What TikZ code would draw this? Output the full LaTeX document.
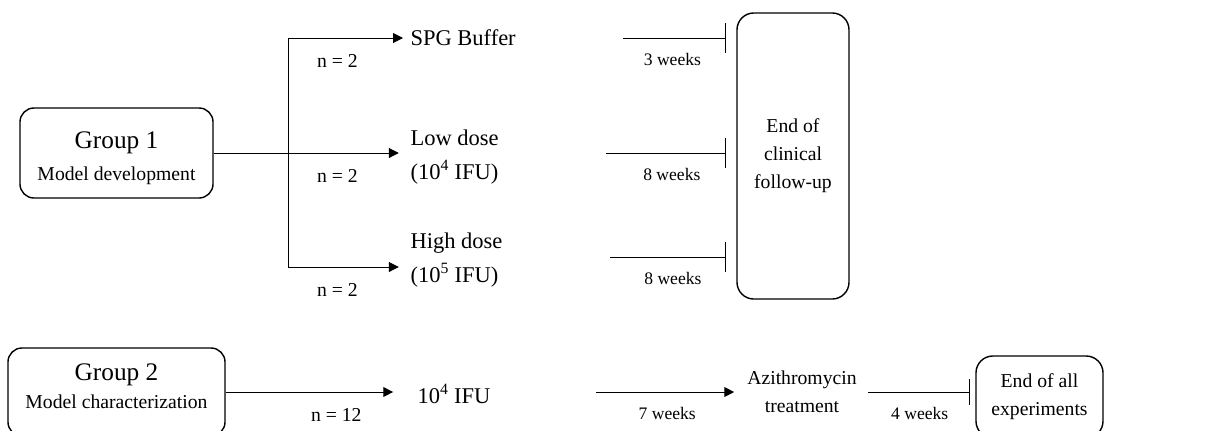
\documentclass[tikz,border=0pt]{standalone}
\usepackage{fontspec}
\setmainfont{Liberation Serif}
\usetikzlibrary{arrows.meta,positioning,calc}

\begin{document}
\begin{tikzpicture}[x=0.025cm, y=-0.025cm, line width=0.7pt,
    groupbox/.style={draw, line width=1pt, rounded corners=10pt, align=center},
    endbox/.style={draw, line width=1pt, rounded corners=12pt, align=center},
    txt/.style={inner sep=5pt, font=\fontsize{16}{24}\selectfont},
    flow/.style={-{Triangle[length=7pt,width=7pt]}},
    stopline/.style={-{Bar[width=21pt]}},
    count/.style={below=8pt, font=\fontsize{14}{16}\selectfont},
    weeks/.style={below=7pt, font=\fontsize{12.5}{15}\selectfont}]
  \useasboundingbox (0,0) rectangle (1217,430);

  % Group 1 and its three arms
  \node[groupbox, minimum width=4.825cm, minimum height=2.25cm] (g1) at (116.5,153) {};
  \node[align=center, font=\fontsize{14}{23}\selectfont] (g1t) at (116.5,158)
    {{\fontsize{18}{23}\selectfont Group 1}\\Model development};

  \coordinate (br) at (288,153);
  \coordinate (bt) at (288,38);
  \coordinate (bh) at (288,267);

  \node[txt, anchor=west] (spg) at (403,38) {SPG Buffer};
  \node[txt, anchor=west, align=left] (low) at (403,157) {Low dose\\(10\textsuperscript{4} IFU)};
  \node[txt, anchor=west, align=left] (high) at (403,260) {High dose\\(10\textsuperscript{5} IFU)};

  \draw (g1.east) -- (br);
  \draw (bt) -- (bh);
  \draw[flow] (bt) -- (bt -| spg.west) node[count, pos=0.43] {n = 2};
  \draw[flow, shorten >=3pt] (br) -- (br -| low.west) node[count, pos=0.43] {n = 2};
  \draw[flow, shorten >=3pt] (bh) -- (bh -| high.west) node[count, pos=0.43] {n = 2};

  % end of follow-up
  \node[endbox, minimum width=2.8cm, minimum height=7.15cm,
        font=\fontsize{14}{20}\selectfont] (end1) at (793,156) {End of\\clinical\\follow-up};

  \draw[stopline, shorten <=2.5cm, shorten >=7pt] (spg.east) -- (spg.east -| end1.west)
    node[weeks, pos=0.7] {3 weeks};
  \draw[stopline, shorten <=2.5cm, shorten >=7pt] (low.east |- br) -- (br -| end1.west)
    node[weeks, pos=0.72] {8 weeks};
  \draw[stopline, shorten <=2.5cm, shorten >=7pt] ([yshift=2pt]high.east) -- ([yshift=2pt]high.east -| end1.west)
    node[weeks, pos=0.72] {8 weeks};

  % Group 2
  \node[groupbox, minimum width=5.425cm, minimum height=2.2cm] (g2) at (116.5,392) {};
  \node[align=center, font=\fontsize{14}{20}\selectfont] (g2t) at (116.5,386)
    {{\fontsize{18}{20}\selectfont Group 2}\\Model characterization};

  \node[txt, anchor=west] (ifu) at (410,394) {10\textsuperscript{4} IFU};
  \node[txt, align=center, font=\fontsize{14}{20}\selectfont] (azi) at (802,392) {Azithromycin\\treatment};
  \node[endbox, minimum width=3.175cm, minimum height=2.05cm,
        font=\fontsize{14}{20}\selectfont] (end2) at (1039.5,397) {End of all\\experiments};

  \draw[flow, shorten >=12pt] (g2.east) -- (g2.east -| ifu.west) node[count, pos=0.6] {n = 12};
  \draw[flow, shorten <=2.45cm, shorten >=4pt] (ifu.east |- g2.east) -- (g2.east -| azi.west)
    node[weeks, pos=0.7] {7 weeks};
  \draw[-{Bar[width=18.5pt]}, shorten <=3pt, shorten >=3.5pt] (azi.east) -- (azi.east -| end2.west)
    node[weeks, pos=0.5] {4 weeks};
\end{tikzpicture}
\end{document}
